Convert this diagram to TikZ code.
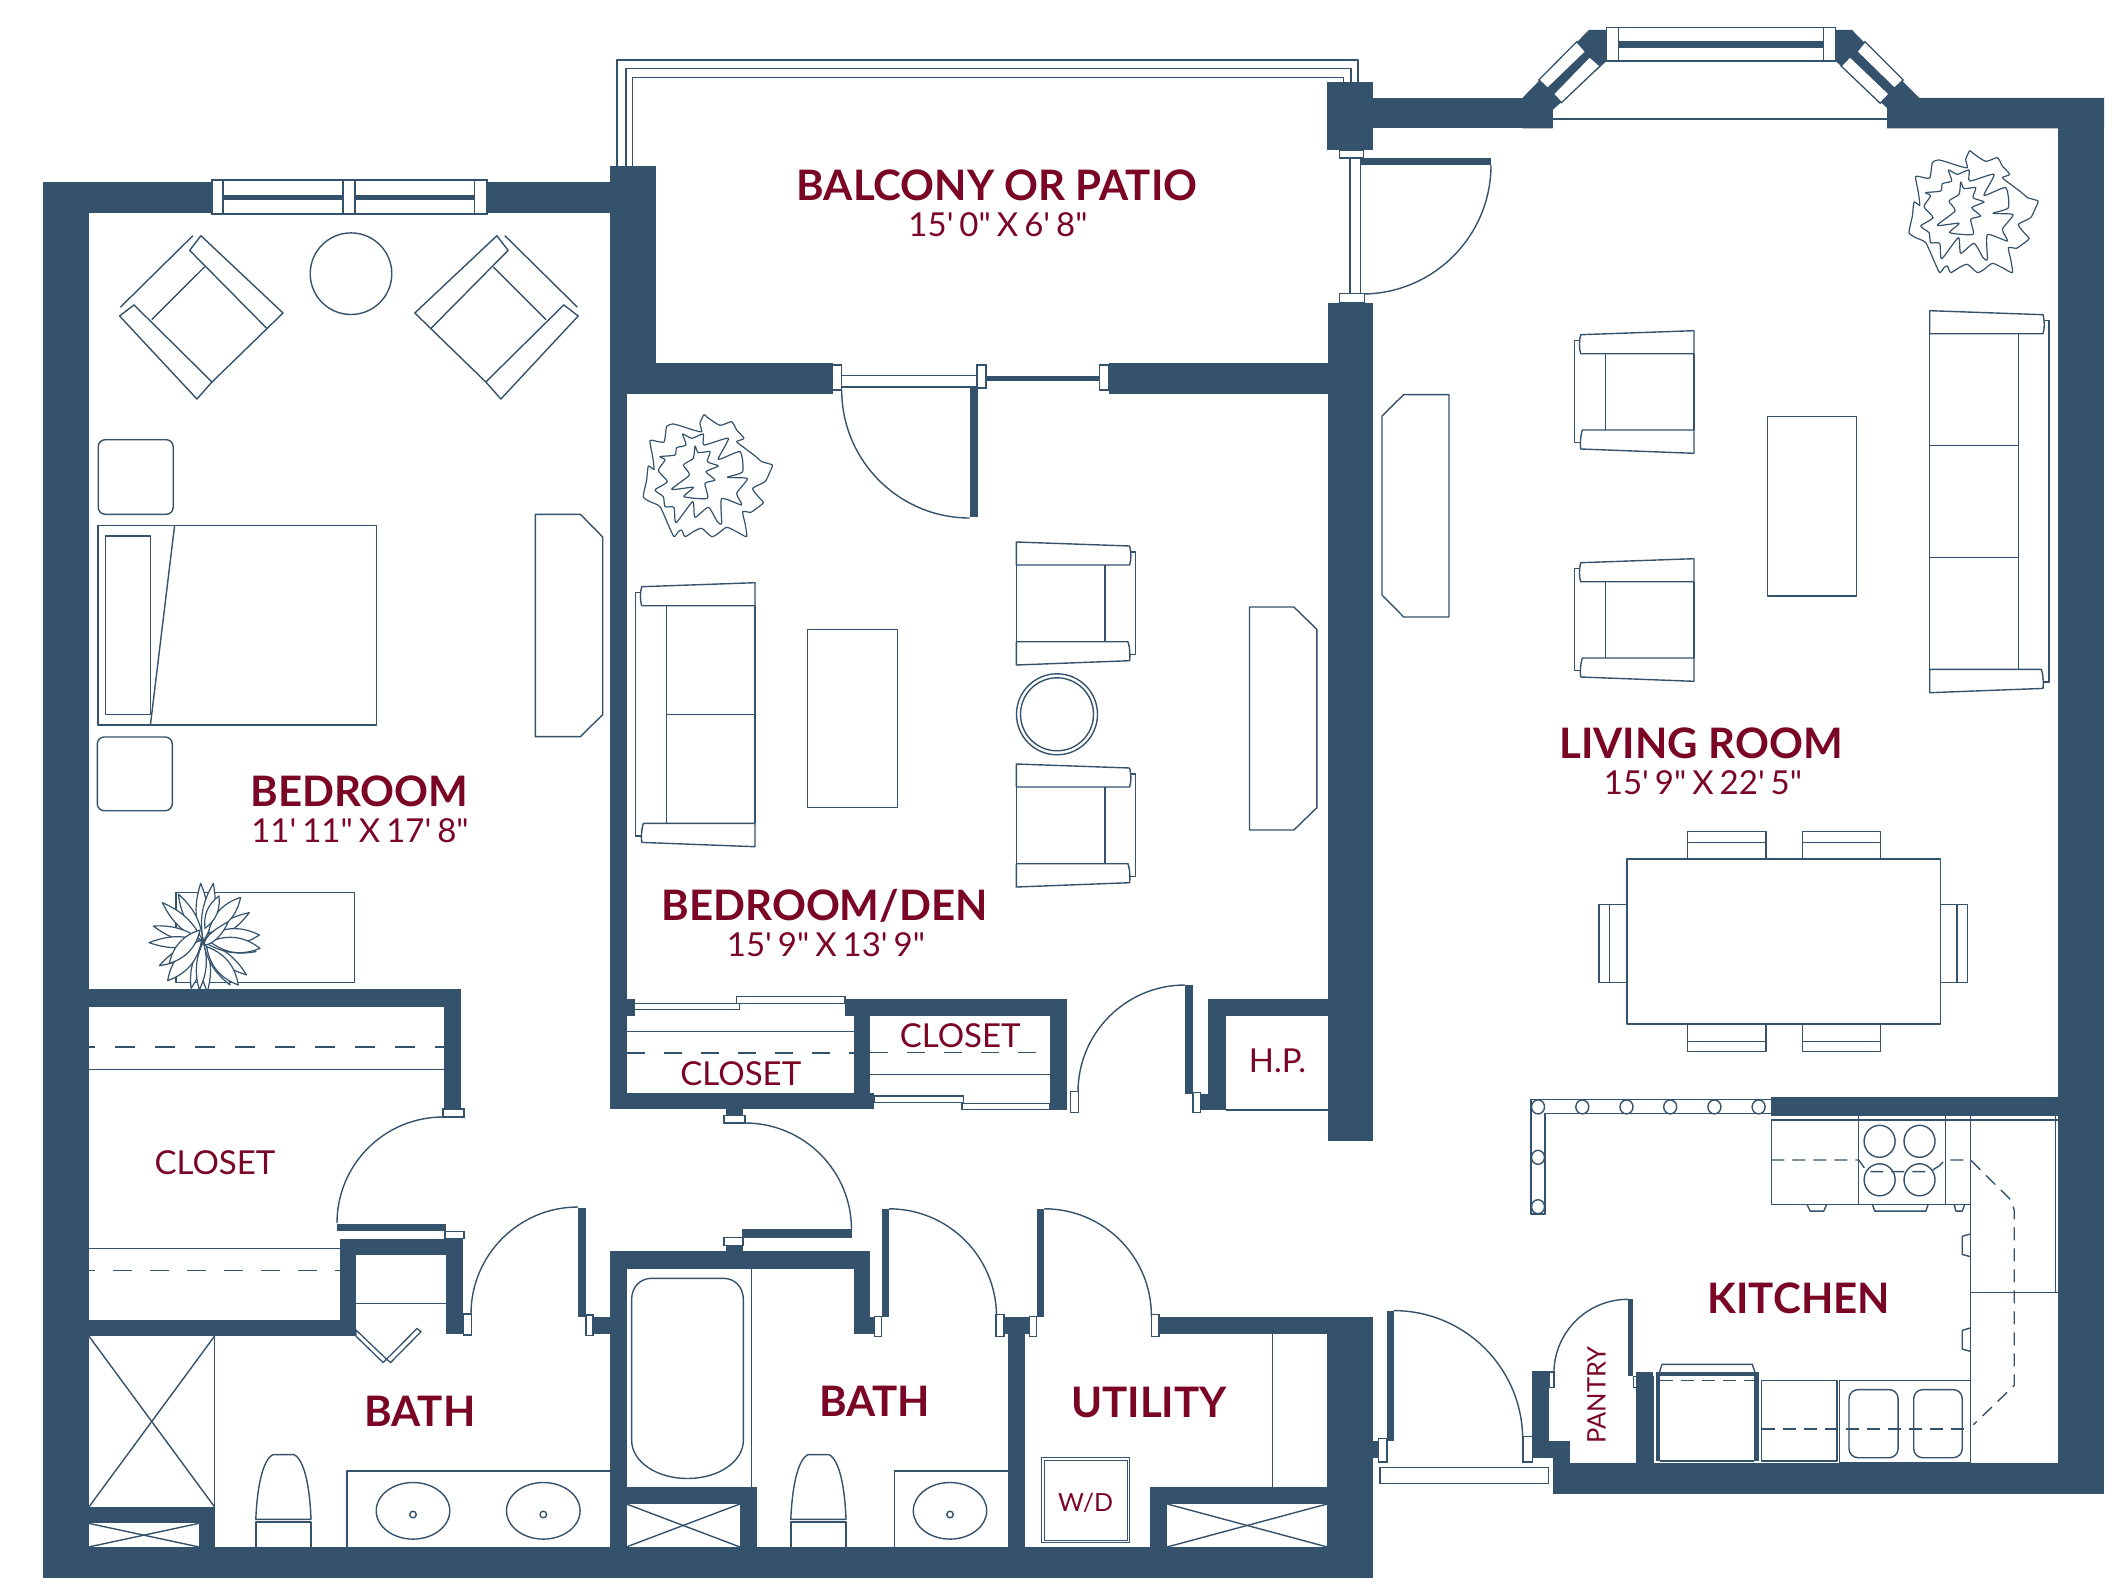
\documentclass[tikz,border=0pt]{standalone}
\usepackage{fontspec}
\newfontfamily\latofont{Lato}
\usetikzlibrary{positioning}
\definecolor{wallblue}{HTML}{34526C}
\definecolor{labelred}{HTML}{7A0525}
\tikzset{
	wall/.style={fill=wallblue,draw=none},
	plan/.style={draw=wallblue,line width=1.4pt,line join=round},
	jamb/.style={draw=wallblue,fill=white,line width=1.3pt},
	dashline/.style={plan,dash pattern=on 20pt off 20pt},
	kitdash/.style={plan,dash pattern=on 13pt off 8pt},
	roomname/.style={text=labelred,inner sep=0pt,text height=30pt,text depth=0pt,font=\latofont\fontsize{42}{42}\selectfont\bfseries},
	roomsize/.style={text=labelred,inner sep=0pt,text height=24pt,text depth=0pt,font={\latofont\fontsize{33}{33}\selectfont\spaceskip 6pt\relax}},
	closetname/.style={text=labelred,inner sep=0pt,text height=24pt,text depth=0pt,font=\latofont\fontsize{33}{33}\selectfont},
}
% arm, back and seat of a chair or sofa
\newcommand{\seatunit}[2]{
	\begin{scope}[#1]
		\draw[plan] (0,0) -- (113.3,4) .. controls (115,10) and (115,18) .. (113.3,23) -- (0,23) -- cycle;
		\draw[plan] (0,#2-23.3) -- (111.7,#2-23.3) .. controls (113.5,#2-18) and (114,#2-10) .. (113.3,#2-4.3) -- (0,#2) -- cycle;
		\draw[plan] (114,10) -- (119.4,10) -- (119.4,#2-10.7) -- (114,#2-10.7);
		\draw[plan] (0,23) -- (0,#2-23.3);
		\draw[plan] (88.7,23) -- (88.7,#2-23.3);
	\end{scope}
}
\newcommand{\cornerchair}[1]{
	\begin{scope}[#1]
		\draw[plan] (192.9,235.7) -- (120.5,307.1);
		\draw[plan] (200.9,235.7) -- (283,313) -- (267,328.6) -- (189.7,250.4) -- cycle;
		\draw[plan] (134,304.9) -- (212,382) -- (196.9,399) -- (119.6,316) -- cycle;
		\draw[plan] (204.5,267) -- (151.8,319.6);
		\draw[plan] (267,328.6) -- (212,382);
	\end{scope}
}
\newcommand{\plantshape}[1]{
	\begin{scope}[shift={#1},scale=.3333]
		\draw[plan,line width=1.2pt] plot[smooth cycle,tension=.35] coordinates {(222,44) (232,52) (270,76) (305,65) (320,90) (342,115) (320,125) (345,145) (378,170) (395,185) (427,195) (420,215) (405,245) (368,265) (385,290) (400,308) (380,325) (362,337) (338,335) (345,370) (350,410) (320,395) (290,382) (265,400) (245,410) (215,385) (190,395) (165,410) (155,390) (145,395) (132,410) (115,375) (90,320) (60,305) (40,290) (50,240) (55,198) (72,208) (68,170) (60,122) (85,125) (103,125) (110,80) (130,72) (165,82) (190,90) (215,95) (210,70)};
		\draw[plan,line width=1.2pt] plot[smooth cycle,tension=.35] coordinates {(158,102) (185,115) (220,102) (222,135) (295,115) (265,178) (330,155) (338,215) (292,232) (352,236) (320,280) (335,315) (275,296) (275,370) (262,365) (235,322) (195,352) (188,305) (138,368) (132,322) (105,320) (100,290) (75,270) (112,245) (85,212) (105,180) (90,170) (135,165) (140,143) (168,135)};
		\draw[plan,line width=1.2pt] plot[smooth cycle,tension=.35] coordinates {(195,138) (205,158) (240,155) (232,185) (265,198) (228,215) (255,240) (225,250) (232,295) (162,290) (190,262) (125,268) (178,225) (160,195) (190,175)};
	\end{scope}
}
\newcommand{\toiletshape}[1]{
	\begin{scope}[xshift=#1]
		\draw[plan] (255.8,1519.3) .. controls (257,1490) and (262,1460) .. (273,1454.6) -- (294,1454.6) .. controls (305,1460) and (310,1490) .. (311,1519.3) -- cycle;
		\draw[plan] (255.8,1546.9) -- (255.8,1521.8) -- (311,1521.8) -- (311,1546.9);
	\end{scope}
}
\begin{document}
\begin{tikzpicture}[x=1pt,y=-1pt]
	\useasboundingbox (0,0) rectangle (2112,1584);

	% outer walls
	\fill[wall] (43,182) rectangle (89,1578);
	\fill[wall] (43,182) rectangle (212,212.5);
	\fill[wall] (487,182) rectangle (610,212.5);
	\fill[wall] (610,166) rectangle (655.7,363);
	\fill[wall] (610,363) rectangle (626.5,1108.9);
	\fill[wall] (610,363) rectangle (832.5,393.5);
	\fill[wall] (1108.6,363) rectangle (1328,393.5);
	\fill[wall] (1328,303) rectangle (1373,1141);
	\fill[wall] (1327,82) rectangle (1372.7,150);
	\fill[wall] (1372.7,98) rectangle (1552.6,128.3);
	\fill[wall] (1522.3,98) -- (1588.8,30) -- (1606.6,30) -- (1606.6,61) -- (1552.6,110) -- (1552.6,128.3) -- (1522.3,128.3) -- cycle;
	\fill[wall] (1835.5,30) -- (1852,30) -- (1919.3,98) -- (2104,98) -- (2104,128.3) -- (1887.1,128.3) -- (1887.1,108) -- (1835.5,61) -- cycle;
	\fill[wall] (2058,98) rectangle (2104,1493.5);
	\fill[wall] (1552.6,1463.1) rectangle (2104,1493.5);
	\fill[wall] (1771.3,1097.3) rectangle (2058,1116.4);
	\fill[wall] (43,1546.9) rectangle (1373,1578);
	\fill[wall] (1327,1317.4) rectangle (1373,1578);

	% inner walls
	\fill[wall] (610,1093.1) rectangle (874,1108.9);
	\fill[wall] (626.5,998.5) rectangle (634.7,1015.5);
	\fill[wall] (853.6,998.5) rectangle (870.4,1093.1);
	\fill[wall] (845,998.5) rectangle (1066.8,1015.5);
	\fill[wall] (1049.5,998.5) rectangle (1066.8,1109.7);
	\fill[wall] (1208,998.5) rectangle (1225.5,1109.7);
	\fill[wall] (1200.5,1093.6) rectangle (1225.5,1109.7);
	\fill[wall] (1208,998.5) rectangle (1328,1015.5);
	\fill[wall] (726,1108.9) rectangle (742.9,1115.8);
	\fill[wall] (726,1245.2) rectangle (743,1251.3);
	\fill[wall] (610,1251.3) rectangle (870.4,1268.6);
	\fill[wall] (610,1251.3) rectangle (626.5,1578);
	\fill[wall] (853.6,1251.3) rectangle (870.4,1334.1);
	\fill[wall] (870.4,1317.2) rectangle (874.5,1334.1);
	\fill[wall] (89,989.2) rectangle (461,1006.6);
	\fill[wall] (443.8,989.2) rectangle (461,1108.9);
	\fill[wall] (339.7,1238.7) rectangle (463,1255.3);
	\fill[wall] (446,1238.7) rectangle (463,1334.1);
	\fill[wall] (339.7,1238.7) rectangle (356,1336.2);
	\fill[wall] (89,1319.6) rectangle (356,1336.2);
	\fill[wall] (593,1317.2) rectangle (610,1334.1);
	\fill[wall] (89,1506.8) rectangle (215,1523.4);
	\fill[wall] (198.7,1506.8) rectangle (215,1546.9);
	\fill[wall] (1004,1317.2) rectangle (1029.6,1334.1);
	\fill[wall] (1159,1317.2) rectangle (1373,1334.1);
	\fill[wall] (1008,1334.1) rectangle (1025,1546.9);
	\fill[wall] (1150,1486.6) rectangle (1327,1504);
	\fill[wall] (1150,1486.6) rectangle (1167.3,1546.9);
	\fill[wall] (626.5,1486.6) rectangle (756.6,1504);
	\fill[wall] (739.8,1486.6) rectangle (756.6,1546.9);
	\fill[wall] (1372.8,1440.7) rectangle (1378.2,1457.7);
	\fill[wall] (1532.2,1371.2) rectangle (1549.2,1457.7);
	\fill[wall] (1532.2,1440.7) rectangle (1569.6,1457.7);
	\fill[wall] (1552.6,1440.7) rectangle (1569.6,1470);
	\fill[wall] (1636.2,1371.9) rectangle (1652.7,1463.1);

	% door leaves
	\fill[wall] (1359.5,158) rectangle (1491,165);
	\fill[wall] (970,387) rectangle (977.7,517);
	\fill[wall] (986,375.7) rectangle (1099.4,381.4);
	\fill[wall] (1184.7,984.8) rectangle (1192.9,1093.6);
	\fill[wall] (741.8,1229.4) rectangle (851.5,1237.5);
	\fill[wall] (337,1223.5) rectangle (446.4,1231);
	\fill[wall] (578,1207.6) rectangle (586,1317.2);
	\fill[wall] (881.6,1208.8) rectangle (889.3,1317.2);
	\fill[wall] (1036.7,1208.8) rectangle (1044.4,1317.2);
	\fill[wall] (1387.4,1310.6) rectangle (1393.7,1440.7);
	\fill[wall] (1627.9,1299.3) rectangle (1633.3,1376.3);

	% door swings
	\draw[plan] (1491,165) arc[start angle=0,end angle=-90,radius=129pt];
	\draw[plan] (841.7,390) arc[start angle=180,end angle=270,radius=128pt];
	\draw[plan] (1078,1092) arc[start angle=180,end angle=90,radius=107pt];
	\draw[plan] (745,1123) arc[start angle=90,end angle=0,radius=106.5pt];
	\draw[plan] (443,1117) arc[start angle=90,end angle=180,radius=106pt];
	\draw[plan] (471,1314) arc[start angle=180,end angle=90,radius=107pt];
	\draw[plan] (889,1208.8) arc[start angle=90,end angle=0,radius=107.5pt];
	\draw[plan] (1044.4,1208.8) arc[start angle=90,end angle=0,radius=107pt];
	\draw[plan] (1393.7,1310.6) arc[start angle=90,end angle=0,radius=129pt];
	\draw[plan] (1627.9,1299.3) arc[start angle=90,end angle=180,radius=74pt];

	% door jambs and sliders
	\draw[jamb] (1339.4,150) rectangle (1363.5,158);
	\draw[jamb] (1339.4,293.6) rectangle (1364.6,303);
	\draw[plan] (1350,158) -- (1350,293.6);
	\draw[plan] (1360.6,158) -- (1360.6,293.6);
	\draw[jamb] (832.5,365) rectangle (841.7,390);
	\draw[jamb] (841.7,375.7) rectangle (977,387);
	\draw[jamb] (977,365) rectangle (986,388);
	\draw[jamb] (1099.4,365) rectangle (1108.6,390);
	\draw[jamb] (634.7,1003.4) rectangle (739.3,1009.8);
	\draw[jamb] (736.7,996.5) rectangle (845,1003.4);
	\draw[jamb] (874.5,1096) rectangle (963.8,1102.4);
	\draw[jamb] (962,1103.3) rectangle (1049.5,1109.7);
	\draw[jamb] (1070.4,1091.5) rectangle (1078.6,1112.6);
	\draw[jamb] (1192.9,1092.5) rectangle (1200.5,1112.6);
	\draw[jamb] (724,1115.8) rectangle (745,1123);
	\draw[jamb] (724,1237.5) rectangle (743,1245.2);
	\draw[jamb] (443,1108.9) rectangle (464,1117);
	\draw[jamb] (445,1231.5) rectangle (464,1238.7);
	\draw[jamb] (463.4,1314) rectangle (471.4,1335);
	\draw[jamb] (586,1315) rectangle (593,1335.5);
	\draw[jamb] (874.5,1316.4) rectangle (881.6,1336.2);
	\draw[jamb] (996,1314.7) rectangle (1004,1336.2);
	\draw[jamb] (1029.6,1316.4) rectangle (1036.7,1336.2);
	\draw[jamb] (1151.5,1314.7) rectangle (1159,1336.2);
	\draw[jamb] (1378.2,1438.3) rectangle (1386.9,1462.1);
	\draw[jamb] (1523,1436.6) rectangle (1532.2,1462.1);
	\draw[jamb] (1380.1,1467.2) rectangle (1548.7,1483.6);
	\draw[jamb] (1549.2,1371.9) rectangle (1554,1387.2);
	\draw[jamb] (1633.3,1376.3) rectangle (1636.2,1387.2);
	\draw[jamb] (356,1330) -- (386.6,1359.2) -- (383,1362.5) -- (356,1336.2) -- cycle;
	\draw[jamb] (417,1328.5) -- (421,1331.7) -- (390.6,1362.5) -- (386.6,1359.2) -- cycle;

	% windows
	\draw[jamb] (212,180) rectangle (487,214);
	\fill[wall] (223,195) rectangle (474.5,200);
	\draw[jamb] (343,180) rectangle (355,214);
	\draw[plan] (223,180) -- (223,214);
	\draw[plan] (474.5,180) -- (474.5,214);
	\draw[jamb] (1606.6,27.7) rectangle (1835.5,61);
	\fill[wall] (1618.7,41) rectangle (1823.4,48);
	\draw[plan] (1618.7,27.7) -- (1618.7,61);
	\draw[plan] (1823.4,27.7) -- (1823.4,61);
	\draw[jamb] (1576.7,41.7) -- (1585.6,51.7) -- (1547.7,88.3) -- (1538.8,80) -- cycle;
	\draw[jamb] (1589.6,56.7) -- (1600.1,66) -- (1561.4,102.7) -- (1553.4,94) -- cycle;
	\draw[jamb] (1864.9,41.7) -- (1903.2,80) -- (1894.4,88.3) -- (1856.9,51.7) -- cycle;
	\draw[jamb] (1850,56.7) -- (1889.1,94) -- (1880.2,103.3) -- (1841.1,66) -- cycle;
	\draw[plan,line width=2pt] (1552.6,119.3) -- (1887.1,119.3);

	% balcony rails
	\draw[plan,line width=1.2pt] (617,166) -- (617,60) -- (1358,60) -- (1358,82);
	\draw[plan,line width=1.8pt] (626,166) -- (626,68.6) -- (1351,68.6) -- (1351,82);
	\draw[plan,line width=1.2pt] (632.7,166) -- (632.7,77.5) -- (1343.4,77.5) -- (1343.4,82);

	% bedroom furniture
	\cornerchair{}
	\cornerchair{shift={(697.8,0)},xscale=-1}
	\draw[plan] (351,273.7) circle[radius=40.8pt];
	\draw[plan,rounded corners=7pt] (98.2,439.7) rectangle (173.2,514.3);
	\draw[plan,rounded corners=7pt] (97.3,737) rectangle (172.3,810.7);
	\draw[plan] (98,525.4) rectangle (376.3,725);
	\draw[plan] (105.4,536) rectangle (150.4,714.7);
	\draw[plan] (174.6,525.4) -- (150.4,725);
	\draw[plan] (535.3,514.3) -- (580.4,514.3) -- (602.7,537) -- (602.7,714.7) -- (580.4,736.6) -- (535.3,736.6) -- cycle;
	\draw[plan] (176,892.3) rectangle (354.3,982.3);
	\begin{scope}[shift={(130,870)},scale=.3333]
		\foreach \tipx/\tipy in {212/40,250/40,145/72,97/98,70/168,57/218,88/287,183/355,232/365,208/360,300/345,350/315,378/245,358/128}
			\draw[plan,fill=white,line width=1.2pt] (220,215) to[bend left=20] (\tipx,\tipy) to[bend left=20] cycle;
		\foreach \basex/\basey/\tipx/\tipy in {225/205/388/195,235/190/332/82,225/175/267/78,215/210/113/332,230/230/325/345,240/215/390/235,210/180/118/280}
			\draw[plan,fill=white,line width=1.2pt] (\basex,\basey) to[bend left=30] (\tipx,\tipy) to[bend left=30] cycle;
		\draw[plan,fill=white,line width=1.2pt] (222,225) .. controls (225,195) and (260,175) .. (295,155) .. controls (280,190) and (250,225) .. (222,225) -- cycle;
	\end{scope}

	% den furniture
	\plantshape{(630,400)}
	\seatunit{shift={(755,582.7)},xscale=-1}{264}
	\draw[plan] (666.3,714.7) -- (755,714.7);
	\draw[plan] (807.7,629.3) rectangle (897.4,807.7);
	\seatunit{shift={(1016.3,542)}}{123}
	\seatunit{shift={(1016.3,764)}}{123}
	\draw[plan] (1057,714.3) circle[radius=40.5pt];
	\draw[plan] (1057,714.3) circle[radius=36.5pt];
	\draw[plan] (1249.5,607) -- (1293.9,607) -- (1316.8,629.3) -- (1316.8,807.7) -- (1293.9,830) -- (1249.5,830) -- cycle;

	% living room furniture
	\plantshape{(1895.7,136)}
	\draw[plan] (1403.7,394.6) -- (1449,394.6) -- (1449,617) -- (1403.7,617) -- (1382,595) -- (1382,416) -- cycle;
	\seatunit{shift={(1694,330.7)},xscale=-1}{122.6}
	\seatunit{shift={(1694,558.7)},xscale=-1}{122.6}
	\seatunit{shift={(1929.7,310.7)}}{382}
	\draw[plan] (1929.7,445.3) -- (2018,445.3);
	\draw[plan] (1929.7,557.7) -- (2018,557.7);
	\draw[plan] (1767.4,416.7) rectangle (1856.5,596);
	\draw[plan] (1687.7,831.7) rectangle (1766,859);
	\draw[plan] (1687.7,842.3) -- (1766,842.3);
	\draw[plan] (1802.3,831.7) rectangle (1880.7,859);
	\draw[plan] (1802.3,842.3) -- (1880.7,842.3);
	\draw[plan] (1687.7,1024) rectangle (1766,1051.3);
	\draw[plan] (1687.7,1041.3) -- (1766,1041.3);
	\draw[plan] (1802.3,1024) rectangle (1880.7,1051.3);
	\draw[plan] (1802.3,1041.3) -- (1880.7,1041.3);
	\draw[plan] (1599,904.3) rectangle (1627,982.7);
	\draw[plan] (1609.3,904.3) -- (1609.3,982.7);
	\draw[plan] (1940.3,904.3) rectangle (1967.7,982.7);
	\draw[plan] (1957,904.3) -- (1957,982.7);
	\draw[plan,fill=white] (1627,859) rectangle (1940.3,1024);

	% closets
	\draw[plan] (89,1069.3) -- (443.8,1069.3);
	\draw[dashline,dash phase=14pt] (89,1047) -- (443.8,1047);
	\draw[plan] (89,1248.4) -- (339.7,1248.4);
	\draw[dashline,dash pattern=on 19pt off 18pt,dash phase=13pt] (89,1270.7) -- (339.7,1270.7);
	\draw[plan] (356,1303.4) -- (446,1303.4);
	\draw[plan] (626.5,1031.3) -- (853.6,1031.3);
	\draw[dashline,dash pattern=on 18pt off 19pt] (626.5,1053.1) -- (853.6,1053.1);
	\draw[plan] (870.4,1074.5) -- (1049.5,1074.5);
	\draw[dashline,dash pattern=on 18pt off 19pt] (870.4,1052.7) -- (1049.5,1052.7);
	\draw[plan,line width=1.8pt] (1225.5,1110) -- (1328,1110);

	% baths
	\draw[plan] (89,1336.2) -- (214.5,1506.8);
	\draw[plan] (214.5,1336.2) -- (89,1506.8);
	\draw[plan] (214.5,1336.2) -- (214.5,1506.8);
	\draw[plan] (89,1523.4) -- (198.7,1546.9);
	\draw[plan] (89,1546.9) -- (198.7,1523.4);
	\toiletshape{0}
	\toiletshape{535}
	\draw[plan] (347,1546.9) -- (347,1470.8) -- (610,1470.8);
	\draw[plan] (413,1510.8) ellipse[x radius=36.8pt,y radius=28.3pt];
	\draw[plan] (543.3,1510.8) ellipse[x radius=36.8pt,y radius=28.3pt];
	\draw[plan] (413,1514.5) circle[radius=3.3pt];
	\draw[plan] (543.3,1514.5) circle[radius=3.3pt];
	\draw[plan] (631.6,1300) .. controls (631.6,1287) and (640,1278.3) .. (652,1278.3) -- (723,1278.3) .. controls (735,1278.3) and (743.4,1287) .. (743.4,1300) -- (743.4,1440) .. controls (743.4,1462) and (718,1478.5) .. (687.5,1478.5) .. controls (657,1478.5) and (631.6,1462) .. (631.6,1440) -- cycle;
	\draw[plan] (751.5,1268.6) -- (751.5,1486.6);
	\draw[plan] (626.5,1504) -- (739.8,1546.9);
	\draw[plan] (626.5,1546.9) -- (739.8,1504);
	\draw[plan] (894.4,1546.9) -- (894.4,1470.8) -- (1008,1470.8);
	\draw[plan] (950,1510.8) ellipse[x radius=36.7pt,y radius=28.3pt];
	\draw[plan] (950,1514.5) circle[radius=3.3pt];

	% utility
	\draw[plan] (1272.4,1334.1) -- (1272.4,1486.6);
	\draw[plan,line width=1pt] (1041.8,1457.5) rectangle (1129.6,1542.4);
	\draw[plan,line width=1pt] (1044.3,1460) rectangle (1127.1,1540);
	\draw[plan] (1167.3,1504) -- (1327,1546.9);
	\draw[plan] (1167.3,1546.9) -- (1327,1504);

	% kitchen
	\draw[plan] (1771.3,1099.7) -- (1530.8,1099.7) -- (1530.8,1213.8) -- (1544.9,1213.8) -- (1544.9,1113.7) -- (1771.3,1113.7);
	\foreach \stoolx in {1538,1582.3,1626.5,1670.2,1714.4,1758.6}
		\draw[plan] (\stoolx,1106.9) ellipse[x radius=6.5pt,y radius=7pt];
	\draw[plan] (1538,1157.3) ellipse[x radius=6.5pt,y radius=7pt];
	\draw[plan] (1538,1206.7) ellipse[x radius=6.5pt,y radius=7pt];
	\draw[plan] (1771.3,1119.8) rectangle (1970.5,1204.3);
	\draw[plan] (1771.3,1119.8) -- (2058,1119.8);
	\draw[plan] (1858.7,1116.4) -- (1858.7,1204.3);
	\draw[plan] (1945.2,1116.4) -- (1945.2,1204.3);
	\draw[plan] (1970.5,1116.4) -- (1970.5,1463.1);
	\draw[plan] (2055.5,1116.4) -- (2055.5,1292.2);
	\draw[plan] (1970.5,1292.2) -- (2058,1292.2);
	\foreach \burnx in {1879.6,1919.5}
		\foreach \burny in {1141.3,1179.8}
			\draw[plan] (\burnx,\burny) ellipse[x radius=15.5pt,y radius=16pt];
	\draw[plan] (1806.8,1204.3) -- (1810.2,1211.1) -- (1823.8,1211.1) -- (1826.7,1204.3);
	\draw[plan] (1872.3,1204.3) -- (1874.8,1211.1) -- (1925.8,1211.1) -- (1928.2,1204.3);
	\draw[plan] (1954,1204.3) -- (1955.9,1211.1) -- (1962.2,1211.1) -- (1964.7,1204.3);
	\draw[plan] (1970.5,1233.9) -- (1962.2,1236.3) -- (1962.2,1254.4) -- (1970.5,1256.7);
	\draw[plan] (1970.5,1327.9) -- (1962.2,1330.3) -- (1962.2,1349) -- (1970.5,1351.4);
	\draw[kitdash] (1771.3,1160) -- (1858.7,1160) -- (1867,1171.6) -- (1930,1171.6) -- (1939,1166) -- (1945.2,1160) -- (1970.5,1160) -- (2010.8,1199.9) -- (2014.2,1210) -- (2014.2,1385.5) -- (1973.4,1424.7);
	\draw[kitdash] (1761.6,1429.1) -- (1967,1429.1);
	\draw[plan] (1839.3,1380.4) rectangle (1970.5,1463.1);
	\draw[plan,rounded corners=9pt] (1849,1389.6) rectangle (1898.1,1457.7);
	\draw[plan,rounded corners=9pt] (1913.7,1389.6) rectangle (1962.2,1457.7);
	\draw[plan] (1761.6,1380.4) rectangle (1836.9,1461.1);
	\fill[wall] (1656.1,1371.9) rectangle (1759.1,1376.3);
	\fill[wall] (1656.1,1371.9) rectangle (1659.5,1461.1);
	\fill[wall] (1754.3,1371.9) rectangle (1759.1,1461.1);
	\draw[plan] (1659.5,1461.1) -- (1754.3,1461.1);
	\draw[plan] (1659.5,1371.9) -- (1662,1364.4) -- (1752.3,1364.4) -- (1754.8,1371.9);
	\draw[kitdash] (1659.5,1380.4) -- (1754.3,1380.4);
	\draw[plan] (1653.7,1376.3) -- (1653.7,1463.1);

	% labels
	\node[roomname] (balconyname) at (997,185) {BALCONY OR PATIO};
	\node[roomsize] (balconysize) at (998,224) {15' 0" X 6' 8"};
	\node[roomname] (bedroomname) at (359.4,791.3) {BEDROOM};
	\node[roomsize] (bedroomsize) at (360,830) {11' 11" X 17' 8"};
	\node[roomname] (denname) at (824.6,905) {BEDROOM/DEN};
	\node[roomsize] (densize) at (826,944) {15' 9" X 13' 9"};
	\node[roomname] (livingname) at (1701,743) {LIVING ROOM};
	\node[roomsize] (livingsize) at (1703,782) {15' 9" X 22' 5"};
	\node[roomname] (kitchenname) at (1798.7,1298.9) {KITCHEN};
	\node[roomname] (bathonename) at (420,1411.1) {BATH};
	\node[roomname] (bathtwoname) at (874.5,1401) {BATH};
	\node[roomname] (utilityname) at (1149,1402.2) {UTILITY};
	\node[closetname] (bigcloset) at (215,1162.3) {CLOSET};
	\node[closetname] (dencloset) at (740.8,1073.7) {CLOSET};
	\node[closetname] (hallcloset) at (960.2,1035.3) {CLOSET};
	\node[closetname] (hpname) at (1277.5,1060) {H.P.};
	\node[closetname,font=\latofont\fontsize{25}{25}\selectfont,text height=18pt] (wdname) at (1085.7,1502) {W/D};
	\node[closetname,font=\latofont\fontsize{25.5}{25.5}\selectfont,text height=18.5pt,rotate=90] (pantryname) at (1596.4,1395) {PANTRY};
\end{tikzpicture}
\end{document}
